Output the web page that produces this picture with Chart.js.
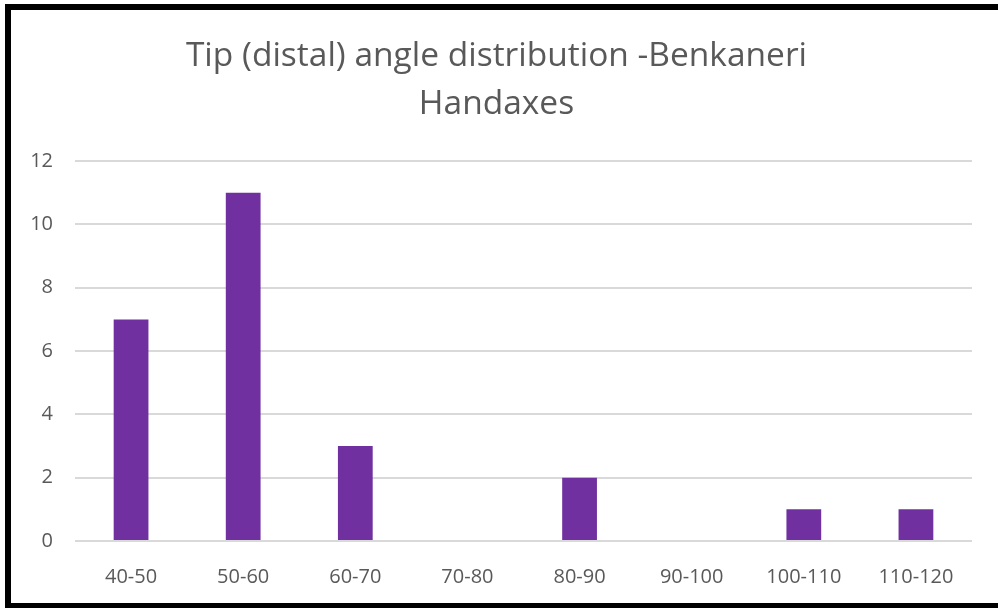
<!DOCTYPE html>
<html>
<head>
  <title>Tip (distal) angle distribution</title>
  <script src="https://cdn.jsdelivr.net/npm/chart.js"></script>
  <style>
    html, body { margin: 0; background: #fff; overflow: hidden; width: 998px; height: 608px; }
    #frame {
      position: absolute; left: 5px; top: 4px; width: 987px; height: 593px;
      border-left: 6px solid #000; border-top: 6px solid #000; border-bottom: 5px solid #000;
    }
    #box { position: absolute; left: 0; top: 0; width: 987px; height: 593px; }
  </style>
</head>
<body>
  <div id="frame">
    <div id="box"><canvas id="myChart"></canvas></div>
  </div>
  <script>
    // Kategoriler (açı aralıkları) ve değerler
    var categories = ['40-50', '50-60', '60-70', '70-80', '80-90', '90-100', '100-110', '110-120'];
    var counts = [7, 11, 3, 0, 2, 0, 1, 1];
    var yTicks = [0, 2, 4, 6, 8, 10, 12];

    var textColor = '#595959';
    var fontName = '"Open Sans", Lato, sans-serif';

    var ctx = document.getElementById('myChart').getContext('2d');

    var myChart = new Chart(ctx, {
      type: 'bar',
      data: {
        labels: categories,
        datasets: [{
          label: 'Count',
          data: counts,
          backgroundColor: '#7030A0',
          borderWidth: 0,
          barPercentage: 0.62,
          categoryPercentage: 0.5
        }]
      },
      options: {
        responsive: true,
        maintainAspectRatio: false,
        animation: false,
        layout: { padding: { left: 10, right: 26, top: 23, bottom: 0 } },
        plugins: {
          legend: { display: false },
          tooltip: { enabled: false },
          title: {
            display: true,
            text: ['Tip (distal) angle distribution -Benkaneri', 'Handaxes'],
            color: textColor,
            font: { family: fontName, size: 33.5, weight: 'normal', lineHeight: 1.42 },
            padding: { top: 0, bottom: 33 }
          }
        },
        scales: {
          x: {
            grid: { display: false },
            border: { display: false },
            ticks: { color: textColor, font: { family: fontName, size: 20 }, padding: 16, maxRotation: 0 },
            afterFit: function (s) { s.height = 62; }
          },
          y: {
            min: 0,
            max: 12,
            afterBuildTicks: function (s) { s.ticks = yTicks.map(function (v) { return { value: v }; }); },
            grid: { color: '#d9d9d9', lineWidth: 2, drawTicks: false },
            border: { display: false },
            ticks: { color: textColor, font: { family: fontName, size: 20 }, padding: 22 },
            afterFit: function (s) { s.width = 54; }
          }
        }
      }
    });
  </script>
</body>
</html>
